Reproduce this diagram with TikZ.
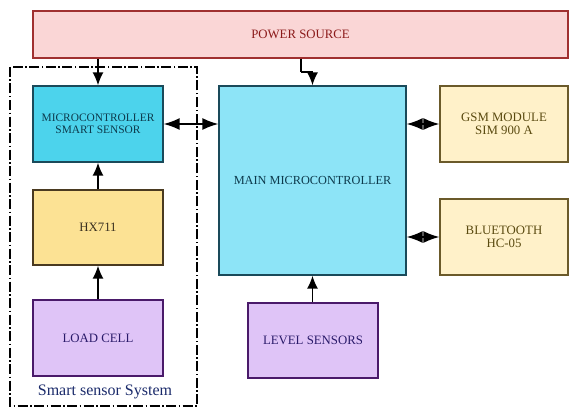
\documentclass[tikz,border=0pt]{standalone}
\usepackage{fontspec}
\setmainfont{Liberation Serif}
\usetikzlibrary{arrows.meta,calc}

\definecolor{pwrfill}{HTML}{FAD6D6}
\definecolor{pwrline}{HTML}{A03030}
\definecolor{pwrtext}{HTML}{8B1A1A}
\definecolor{smartfill}{HTML}{4CD3EC}
\definecolor{mainfill}{HTML}{8DE4F7}
\definecolor{cyanline}{HTML}{1A4A5A}
\definecolor{cyantext}{HTML}{0D3B4D}
\definecolor{hxfill}{HTML}{FCE294}
\definecolor{hxline}{HTML}{4A3A20}
\definecolor{hxtext}{HTML}{3A3020}
\definecolor{modfill}{HTML}{FFF1C9}
\definecolor{modline}{HTML}{6B5A2A}
\definecolor{modtext}{HTML}{5A4A10}
\definecolor{sensfill}{HTML}{DFC4F7}
\definecolor{sensline}{HTML}{4A1A6A}
\definecolor{senstext}{HTML}{2A1A6A}
\definecolor{grouptext}{HTML}{1A2A6A}

\tikzset{
  blockbox/.style={draw, line width=1.3pt, rectangle, inner sep=0pt, align=center,
    font=\fontsize{12.8}{13.5}\selectfont},
  arr/.style={line width=1.5pt, -{Latex[length=13pt,width=11pt]}},
  dblarr/.style={line width=1.5pt, {Latex[length=16pt,width=12pt]}-{Latex[length=16pt,width=12pt]}},
  groupbox/.style={draw, line width=2.2pt, dash pattern=on 10pt off 2.5pt on 1.5pt off 2.5pt}
}

\begin{document}
\begin{tikzpicture}[x=1pt,y=-1pt]
\useasboundingbox (0,0) rectangle (569,409);

% sensing group outline
\draw[groupbox] (10,67) rectangle (197,406);

% blocks
\node[blockbox, fill=pwrfill, draw=pwrline, text=pwrtext, minimum width=535pt, minimum height=47pt]
  (power) at (300.5,34.5) {POWER SOURCE};
\node[blockbox, fill=smartfill, draw=cyanline, text=cyantext, minimum width=130pt, minimum height=76pt,
  font=\fontsize{11.4}{11.5}\selectfont]
  (smart) at (98,124) {MICROCONTROLLER\\SMART SENSOR};
\node[blockbox, fill=hxfill, draw=hxline, text=hxtext, minimum width=130pt, minimum height=75pt]
  (hx) at (98,227.5) {HX711};
\node[blockbox, fill=sensfill, draw=sensline, text=senstext, minimum width=130pt, minimum height=76pt]
  (load) at (98,338) {LOAD CELL};
\node[blockbox, fill=mainfill, draw=cyanline, text=cyantext, minimum width=187pt, minimum height=189pt,
  font=\fontsize{12.3}{13}\selectfont]
  (main) at (312.5,180.5) {MAIN MICROCONTROLLER};
\node[blockbox, fill=modfill, draw=modline, text=modtext, minimum width=128pt, minimum height=76pt]
  (gsm) at (504,124) {GSM MODULE\\SIM 900 A};
\node[blockbox, fill=modfill, draw=modline, text=modtext, minimum width=128pt, minimum height=76pt]
  (bt) at (504,237) {BLUETOOTH\\HC-05};
\node[blockbox, fill=sensfill, draw=sensline, text=senstext, minimum width=130pt, minimum height=75pt]
  (level) at (313,340.5) {LEVEL SENSORS};

\node[text=grouptext, font=\fontsize{16}{18}\selectfont, inner sep=0pt] (grouplabel) at (105,392) {Smart sensor System};

% connectors
\coordinate (pbend) at (301,72);
\draw[arr] (power.south -| smart.north) -- (smart.north);
\draw[line width=1.5pt] (power.south -| pbend) -- (pbend);
\draw[arr] (pbend) -| (main.north);
\draw[arr] (hx.north) -- (smart.south);
\draw[arr] (load.north) -- (hx.south);
\draw[arr] (level.north -| main.south) -- (main.south);
\draw[dblarr] (smart.east) -- (main.west |- smart.east);
\draw[dblarr] (main.east |- gsm.west) -- (gsm.west);
\draw[dblarr] (main.east |- bt.west) -- (bt.west);
\end{tikzpicture}
\end{document}
